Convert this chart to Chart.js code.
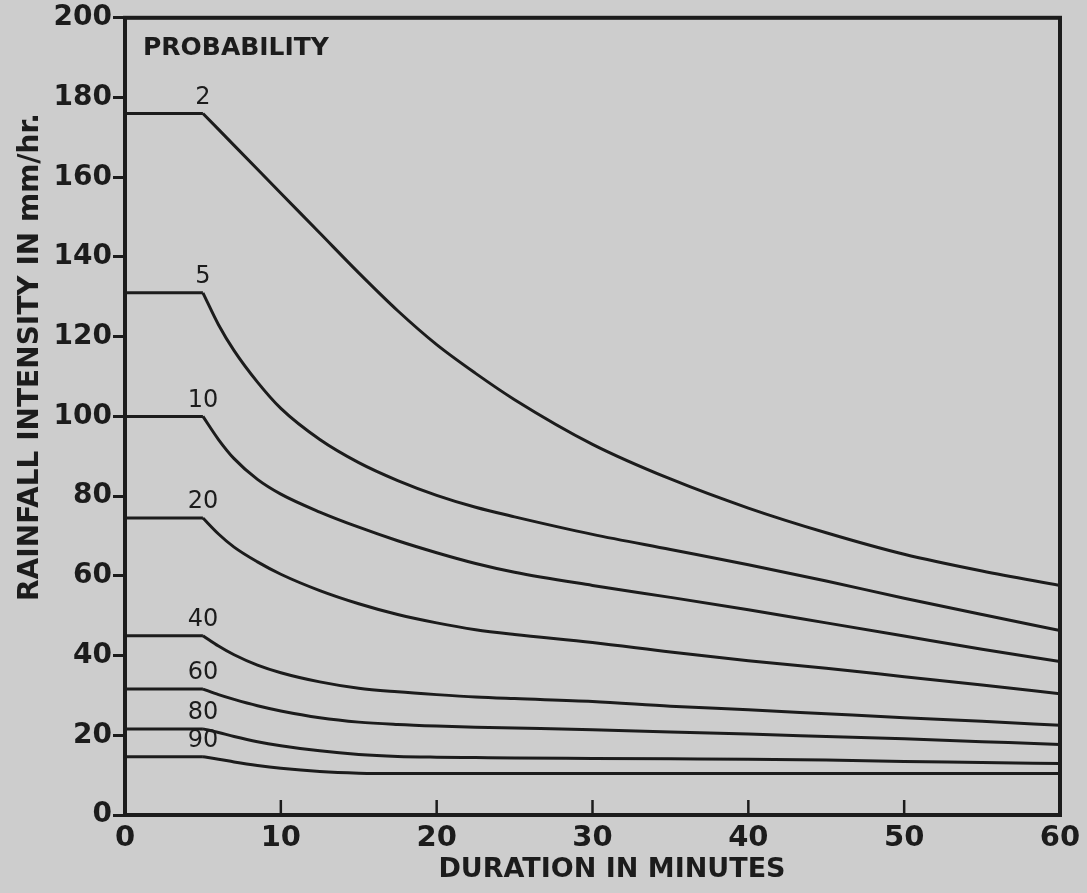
<!DOCTYPE html>
<html>
<head>
<meta charset="utf-8">
<title>Rainfall intensity - duration</title>
<script src="https://cdn.jsdelivr.net/npm/chart.js@4"></script>
<style>
  html, body { margin: 0; padding: 0; background: #cdcdcd; }
  #wrap { width: 1087px; height: 893px; position: relative; }
</style>
</head>
<body>
<div id="wrap"><canvas id="grafico"></canvas></div>
<script>
// duration in minutes
const durations = [0, 5, 6, 7, 8.5, 10, 12.5, 15, 17.5, 20, 22.5, 25, 30, 35, 40, 45, 50, 55, 60];

// rainfall intensity (mm/hr) per probability curve
const p2  = [176, 176, 172, 168, 162, 156, 146, 136, 126.5, 118, 110.8, 104.2, 93, 84.3, 77, 70.8, 65.4, 61.2, 57.6];
const p5  = [131, 131, 123, 116.5, 108.6, 102, 94.2, 88.4, 83.9, 80.2, 77.2, 74.8, 70.4, 66.6, 62.8, 58.7, 54.4, 50.3, 46.3];
const p10 = [100, 100, 94.2, 89.4, 84.2, 80.5, 76, 72.2, 68.8, 65.8, 63.1, 60.9, 57.6, 54.6, 51.5, 48.2, 44.9, 41.6, 38.5];
const p20 = [74.5, 74.5, 70.5, 67.2, 63.5, 60.4, 56.3, 53, 50.3, 48.2, 46.5, 45.3, 43.3, 40.9, 38.7, 36.8, 34.7, 32.6, 30.4];
const p40 = [45, 45, 42.4, 40.2, 37.6, 35.7, 33.4, 31.8, 30.9, 30.2, 29.6, 29.2, 28.5, 27.3, 26.4, 25.4, 24.4, 23.5, 22.5];
const p60 = [31.6, 31.6, 30.2, 29, 27.4, 26.1, 24.4, 23.3, 22.7, 22.3, 22, 21.8, 21.4, 20.8, 20.3, 19.7, 19.1, 18.4, 17.7];
const p80 = [21.6, 21.6, 20.7, 19.7, 18.4, 17.4, 16.1, 15.2, 14.7, 14.5, 14.4, 14.3, 14.2, 14.1, 14, 13.8, 13.4, 13.2, 12.9];
const p90 = [14.6, 14.6, 14, 13.3, 12.4, 11.7, 10.9, 10.5, 10.4, 10.4, 10.4, 10.4, 10.4, 10.4, 10.4, 10.4, 10.4, 10.4, 10.4];

const curveLabels = ['2', '5', '10', '20', '40', '60', '80', '90'];
const curves = [p2, p5, p10, p20, p40, p60, p80, p90];

const yTicks = [0, 20, 40, 60, 80, 100, 120, 140, 160, 180, 200];
const xTicks = [0, 10, 20, 30, 40, 50, 60];

const ink = '#1c1c1c';
const fontFam = '"DejaVu Sans", sans-serif';

// flat part (0-5 min) and decay part as separate pieces so the knee stays sharp
const datasets = [];
curves.forEach((vals, i) => {
  const pts = durations.map((d, k) => ({ x: d, y: vals[k] }));
  datasets.push({
    label: curveLabels[i] + ' flat',
    data: pts.slice(0, 2),
    borderColor: ink, borderWidth: 3, pointRadius: 0, tension: 0
  });
  datasets.push({
    label: curveLabels[i],
    data: pts.slice(1),
    borderColor: ink, borderWidth: 3, pointRadius: 0,
    cubicInterpolationMode: 'monotone'
  });
});

const paperPlugin = {
  id: 'paper',
  afterDraw(chart) {
    const { ctx, chartArea: a, scales: { x, y } } = chart;
    ctx.save();
    // frame
    ctx.strokeStyle = ink;
    ctx.lineWidth = 4;
    ctx.strokeRect(a.left, a.top, a.right - a.left, a.bottom - a.top);

    // x ticks pointing into the plot
    ctx.lineWidth = 2.5;
    xTicks.slice(1, -1).forEach(v => {
      const px = x.getPixelForValue(v);
      ctx.beginPath();
      ctx.moveTo(px, a.bottom);
      ctx.lineTo(px, a.bottom - 15);
      ctx.stroke();
    });

    ctx.fillStyle = ink;
    ctx.textAlign = 'center';
    ctx.textBaseline = 'middle';

    // curve labels above the knee
    ctx.font = '24px ' + fontFam;
    curves.forEach((vals, i) => {
      ctx.fillText(curveLabels[i], x.getPixelForValue(5), y.getPixelForValue(vals[1]) - 16);
    });

    ctx.font = 'bold 25px ' + fontFam;
    ctx.textAlign = 'left';
    ctx.fillText('PROBABILITY', 143, 48);

    ctx.textAlign = 'center';
    ctx.font = 'bold 27px ' + fontFam;
    ctx.fillText('DURATION IN MINUTES', 612, 870);

    ctx.translate(31, 357);
    ctx.rotate(-Math.PI / 2);
    ctx.font = 'bold 28px ' + fontFam;
    ctx.fillText('RAINFALL INTENSITY IN mm/hr.', 0, 0);
    ctx.restore();
  }
};

new Chart(document.getElementById('grafico').getContext('2d'), {
  type: 'line',
  data: { datasets },
  options: {
    responsive: true,
    maintainAspectRatio: false,
    animation: false,
    layout: { padding: { top: 16, right: 27, left: 0, bottom: 0 } },
    plugins: { legend: { display: false }, tooltip: { enabled: false } },
    scales: {
      x: {
        type: 'linear', min: 0, max: 60,
        afterBuildTicks: s => { s.ticks = xTicks.map(v => ({ value: v })); },
        afterFit: s => { s.height = 78; },
        grid: { drawOnChartArea: false, drawTicks: false },
        border: { display: false },
        ticks: { color: ink, padding: 6, font: { family: fontFam, size: 29, weight: 'bold' } }
      },
      y: {
        min: 0, max: 200,
        afterBuildTicks: s => { s.ticks = yTicks.map(v => ({ value: v })); },
        afterFit: s => { s.width = 125; },
        grid: { drawOnChartArea: false, tickLength: 12, color: ink, lineWidth: 3 },
        border: { display: false },
        ticks: { color: ink, padding: 1, font: { family: fontFam, size: 28, weight: 'bold' } }
      }
    }
  },
  plugins: [paperPlugin]
});
</script>
</body>
</html>
